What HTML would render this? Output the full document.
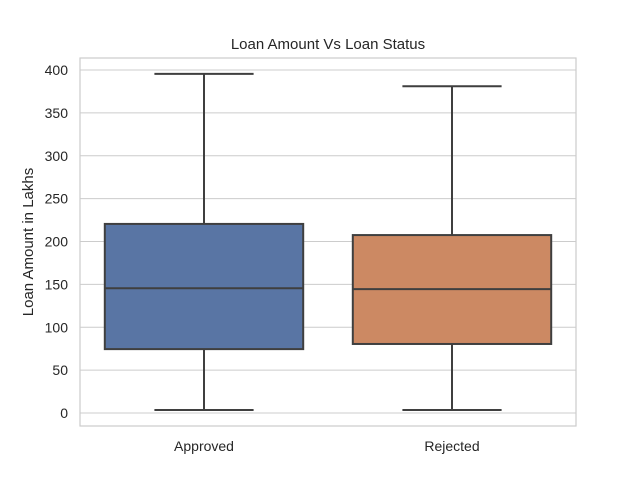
<!DOCTYPE html>
<html><head><meta charset="utf-8"><style>
body{margin:0;background:#fff}
svg text{font-family:"Liberation Sans","DejaVu Sans",sans-serif;fill:#262626}
</style></head><body>
<svg id="chart" width="640" height="480" xmlns="http://www.w3.org/2000/svg">
<rect width="640" height="480" fill="#fff"/>
<text x="328" y="49" font-size="15" text-anchor="middle">Loan Amount Vs Loan Status</text>
<text transform="translate(33,242) rotate(-90)" font-size="15" text-anchor="middle">Loan Amount in Lakhs</text>
<g id="grid"></g><g id="boxes"></g><g id="labels"></g>
<rect x="80" y="58" width="496" height="368" fill="none" stroke="#cccccc" stroke-width="1.2"/>
</svg>
<script>
const categories=["Approved","Rejected"];
const mins=[3.5,3.5];
const q1s=[74.5,80.5];
const medians=[145.5,144.5];
const q3s=[220.5,207.5];
const maxs=[395.5,381];
const colors=["#5975a4","#cc8963"];
const yTicks=[0,50,100,150,200,250,300,350,400];
const NS="http://www.w3.org/2000/svg";
const L=80,R=576,T=58,B=426;
function y(v){return 413-v*(343/400);}
const cw=(R-L)/categories.length;
function x(i){return L+cw*(i+0.5);}
function mk(tag,attrs,parent){const e=document.createElementNS(NS,tag);for(const k in attrs)e.setAttribute(k,attrs[k]);document.getElementById(parent).appendChild(e);return e;}
yTicks.forEach(t=>{
 const g=mk('line',{x1:L,x2:R,y1:y(t),y2:y(t),stroke:'#cccccc','stroke-width':1.1},'grid');
 
 
 const tx=mk('text',{x:L-12,y:y(t)+5,'font-size':14,'text-anchor':'end'},'labels');
 tx.textContent=t;
 
 
});
categories.forEach((c,i)=>{
 const cx=x(i),w=cw*0.8,hw=w/2,capw=w/2;
 const s='#3f3f3f';
 const l1=mk('line',{x1:cx,x2:cx,y1:y(q3s[i]),y2:y(maxs[i]),stroke:s,'stroke-width':2},'boxes');
 
 
 const l2=mk('line',{x1:cx,x2:cx,y1:y(q1s[i]),y2:y(mins[i]),stroke:s,'stroke-width':2},'boxes');
 
 
 const c1=mk('line',{x1:cx-capw/2,x2:cx+capw/2,y1:y(maxs[i]),y2:y(maxs[i]),stroke:s,'stroke-width':2},'boxes');
 
 
 const c2=mk('line',{x1:cx-capw/2,x2:cx+capw/2,y1:y(mins[i]),y2:y(mins[i]),stroke:s,'stroke-width':2},'boxes');
 
 
 const b=mk('rect',{x:cx-hw,y:y(q3s[i]),width:w,height:y(q1s[i])-y(q3s[i]),fill:colors[i],stroke:s,'stroke-width':2},'boxes');
 
 
 const m=mk('line',{x1:cx-hw,x2:cx+hw,y1:y(medians[i]),y2:y(medians[i]),stroke:s,'stroke-width':2},'boxes');
 
 
 const t=mk('text',{x:cx,y:B+25,'font-size':14,'text-anchor':'middle'},'labels');
 t.textContent=c;
 
 
});
</script>
</body></html>
